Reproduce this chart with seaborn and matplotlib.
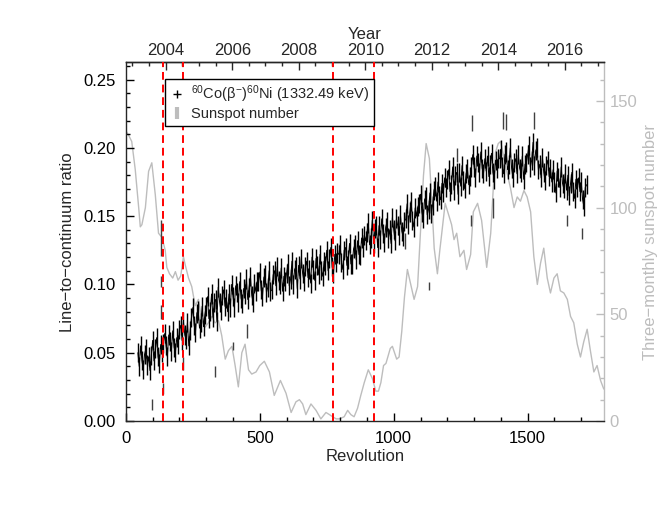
import numpy as np
import pandas as pd
import matplotlib
matplotlib.use("Agg")
import matplotlib.pyplot as plt
import seaborn as sns
from matplotlib.lines import Line2D
from matplotlib.ticker import MultipleLocator, FormatStrFormatter

# 60Co line-to-continuum ratio, one reading every 5 revolutions from rev 45
ratio_start = 45
ratio_step = 5
ratio = [
    0.050, 0.040, 0.055, 0.044, 0.038, 0.049, 0.053, 0.041, 0.047, 0.037,
    0.048, 0.059, 0.044, 0.053, 0.061, 0.047, 0.042, 0.056, 0.050, 0.057,
    0.064, 0.055, 0.047, 0.063, 0.058, 0.051, 0.066, 0.054, 0.050, 0.061,
    0.056, 0.067, 0.070, 0.059, 0.073, 0.063, 0.060, 0.072, 0.055, 0.066,
    0.076, 0.083, 0.070, 0.065, 0.079, 0.081, 0.068, 0.072, 0.084, 0.069,
    0.078, 0.084, 0.091, 0.075, 0.080, 0.093, 0.076, 0.087, 0.089, 0.073,
    0.098, 0.087, 0.081, 0.092, 0.096, 0.084, 0.090, 0.080, 0.093, 0.083,
    0.100, 0.091, 0.083, 0.099, 0.094, 0.087, 0.102, 0.090, 0.086, 0.097,
    0.093, 0.104, 0.089, 0.098, 0.106, 0.092, 0.087, 0.101, 0.095, 0.102,
    0.102, 0.109, 0.096, 0.091, 0.105, 0.107, 0.094, 0.098, 0.110, 0.095,
    0.096, 0.107, 0.110, 0.099, 0.113, 0.103, 0.100, 0.112, 0.095, 0.106,
    0.102, 0.108, 0.115, 0.099, 0.104, 0.117, 0.100, 0.111, 0.113, 0.097,
    0.114, 0.104, 0.119, 0.108, 0.102, 0.113, 0.117, 0.105, 0.111, 0.101,
    0.120, 0.111, 0.103, 0.119, 0.114, 0.107, 0.122, 0.110, 0.106, 0.117,
    0.114, 0.125, 0.110, 0.119, 0.127, 0.113, 0.108, 0.122, 0.116, 0.123,
    0.122, 0.129, 0.116, 0.111, 0.125, 0.127, 0.114, 0.118, 0.130, 0.115,
    0.115, 0.126, 0.129, 0.118, 0.132, 0.122, 0.121, 0.134, 0.127, 0.136,
    0.132, 0.138, 0.145, 0.129, 0.134, 0.147, 0.130, 0.141, 0.143, 0.127,
    0.143, 0.133, 0.148, 0.137, 0.131, 0.142, 0.146, 0.134, 0.140, 0.130,
    0.149, 0.140, 0.132, 0.148, 0.143, 0.136, 0.151, 0.139, 0.135, 0.146,
    0.148, 0.159, 0.144, 0.153, 0.161, 0.147, 0.142, 0.156, 0.150, 0.157,
    0.159, 0.166, 0.153, 0.148, 0.162, 0.164, 0.151, 0.155, 0.167, 0.152,
    0.158, 0.169, 0.172, 0.161, 0.175, 0.165, 0.162, 0.174, 0.167, 0.178,
    0.171, 0.177, 0.184, 0.168, 0.173, 0.186, 0.169, 0.180, 0.182, 0.166,
    0.182, 0.172, 0.187, 0.176, 0.170, 0.181, 0.185, 0.173, 0.179, 0.186,
    0.195, 0.186, 0.178, 0.194, 0.189, 0.182, 0.197, 0.185, 0.181, 0.192,
    0.183, 0.194, 0.179, 0.188, 0.196, 0.182, 0.177, 0.191, 0.185, 0.192,
    0.192, 0.199, 0.186, 0.181, 0.195, 0.197, 0.184, 0.188, 0.200, 0.185,
    0.178, 0.189, 0.192, 0.181, 0.195, 0.185, 0.182, 0.194, 0.177, 0.188,
    0.189, 0.195, 0.202, 0.186, 0.191, 0.204, 0.187, 0.198, 0.200, 0.184,
    0.188, 0.178, 0.193, 0.182, 0.176, 0.187, 0.191, 0.179, 0.185, 0.175,
    0.184, 0.175, 0.167, 0.183, 0.178, 0.171, 0.186, 0.174, 0.170, 0.181,
    0.169, 0.180, 0.165, 0.174, 0.182, 0.168, 0.163, 0.177, 0.171, 0.178,
    0.168, 0.175, 0.162, 0.157, 0.171, 0.173,
]
ratio_err = 0.007

# isolated points lying off the main band
out_rev = [99, 130, 132, 133, 140, 212, 331, 400, 452, 1041, 1130,
           1235, 1290, 1291, 1372, 1407, 1420, 1523, 1648, 1703]
out_ratio = [0.012, 0.134, 0.102, 0.080, 0.024, 0.042, 0.036, 0.055, 0.066, 0.132, 0.099,
             0.195, 0.147, 0.218, 0.156, 0.220, 0.219, 0.220, 0.147, 0.137]
out_err = [0.004, 0.013, 0.004, 0.005, 0.004, 0.005, 0.004, 0.003, 0.005, 0.006, 0.003,
           0.005, 0.004, 0.006, 0.007, 0.006, 0.006, 0.006, 0.004, 0.004]

# three-monthly sunspot number
ssn_rev = [0, 10, 22, 35, 48, 54, 60, 73, 85, 97, 110, 122, 135, 147, 153, 163,
           175, 185, 195, 205, 215, 222, 234, 246, 259, 271, 284, 296, 308, 321,
           333, 346, 358, 371, 383, 396, 408, 420, 433, 445, 458, 470, 486, 500,
           517, 536, 554, 577, 598, 617, 635, 648, 660, 672, 691, 710, 728, 747,
           760, 772, 785, 797, 815, 828, 840, 852, 865, 877, 890, 905, 920, 933,
           943, 952, 962, 971, 987, 995, 1011, 1020, 1030, 1040, 1051, 1060, 1076,
           1089, 1101, 1111, 1121, 1133, 1142, 1151, 1163, 1172, 1182, 1192, 1204,
           1216, 1225, 1235, 1247, 1262, 1272, 1287, 1297, 1313, 1328, 1347, 1362,
           1372, 1380, 1390, 1399, 1418, 1436, 1449, 1461, 1473, 1486, 1498, 1511,
           1523, 1536, 1548, 1560, 1573, 1585, 1598, 1610, 1622, 1635, 1648, 1660,
           1672, 1685, 1697, 1709, 1722, 1734, 1747, 1759, 1772, 1784]
ssn = [136, 134, 131, 118, 100, 91, 92, 100, 117, 121, 106, 88, 86, 80, 72, 69,
       67, 70, 66, 68, 77, 73, 67, 63, 54, 57, 47, 44, 46, 49,
       46, 47, 40, 29, 33, 35, 26, 16, 32, 36, 24, 22, 23, 26,
       28, 23, 12, 19, 13, 4, 9, 10, 8, 3, 8, 5, 1, 4,
       3, 2, 1, 1, 2, 5, 3, 2, 6, 12, 18, 24, 20, 14,
       14, 18, 26, 27, 34, 35, 29, 30, 42, 58, 71, 66, 57,
       63, 91, 115, 130, 123, 103, 81, 69, 80, 91, 102, 97,
       92, 85, 88, 77, 80, 71, 78, 98, 102, 94, 72, 88,
       110, 126, 130, 131, 119, 109, 100, 105, 103, 108, 105, 98,
       77, 64, 74, 81, 67, 60, 67, 69, 61, 60, 57, 49,
       46, 36, 30, 37, 43, 33, 23, 26, 19, 15]

# revolutions marked with red dashed lines
mark_rev = [140, 213, 772, 925]

year_ticks = [2004, 2006, 2008, 2010, 2012, 2014, 2016]

GREY = "#bdbdbd"

sns.set_style("ticks")
plt.rcParams["font.family"] = ["Liberation Sans", "DejaVu Sans"]
plt.rcParams["mathtext.fontset"] = "custom"
plt.rcParams["mathtext.rm"] = "Liberation Sans"
plt.rcParams["mathtext.it"] = "Liberation Sans:italic"
plt.rcParams["axes.linewidth"] = 1.0

rev = np.arange(ratio_start, ratio_start + ratio_step * len(ratio), ratio_step)
df = pd.DataFrame({"rev": rev, "ratio": ratio})
ssn_df = pd.DataFrame({"rev": ssn_rev, "ssn": ssn})

fig = plt.figure(figsize=(6.64, 5.13), dpi=100)
ax = fig.add_axes([0.1895, 0.1793, 0.7202, 0.6989])
ax2 = ax.twinx()

sns.lineplot(data=ssn_df, x="rev", y="ssn", ax=ax2, color=GREY, lw=1,
             sort=False, estimator=None)

# dense data: thin zigzag through the points plus the error bars
sns.lineplot(data=df, x="rev", y="ratio", ax=ax, color="black", lw=0.7,
             sort=False, estimator=None)
ax.errorbar(df["rev"], df["ratio"], yerr=ratio_err, fmt="none",
            ecolor="black", elinewidth=1.0)
ax.errorbar(out_rev, out_ratio, yerr=out_err, fmt="none", ecolor="0.25", elinewidth=1)

for r in mark_rev:
    ax.axvline(r, color="red", ls=(0, (4, 2.5)), lw=1.4, zorder=5)

ax.set_zorder(ax2.get_zorder() + 1)
ax.patch.set_visible(False)

ax.set_xlim(0, 1785)
ax.set_ylim(0, 0.2625)
ax2.set_ylim(0, 168)

ax.xaxis.set_major_locator(MultipleLocator(500))
ax.xaxis.set_minor_locator(MultipleLocator(100))
ax.yaxis.set_major_locator(MultipleLocator(0.05))
ax.yaxis.set_minor_locator(MultipleLocator(0.01))
ax.yaxis.set_major_formatter(FormatStrFormatter("%.2f"))
ax2.yaxis.set_major_locator(MultipleLocator(50))
ax2.yaxis.set_minor_locator(MultipleLocator(10))

ax.tick_params(which="both", direction="in", top=False, right=False,
               labelsize=12, colors="black")
ax.tick_params(which="major", length=5.5, width=1, pad=7)
ax.tick_params(which="minor", length=3, width=1)
ax2.tick_params(which="both", direction="in", colors=GREY, labelsize=12)
ax2.tick_params(which="major", length=5.5, width=1, pad=4)
ax2.tick_params(which="minor", length=3, width=1)

ax.spines["right"].set_visible(False)
for s in ["left", "top", "bottom"]:
    ax2.spines[s].set_visible(False)
ax2.spines["right"].set_color(GREY)


def rev2yr(r):
    return 2004 + (np.asarray(r) - 149) / 124.1


def yr2rev(y):
    return 149 + (np.asarray(y) - 2004) * 124.1


secax = ax.secondary_xaxis("top", functions=(rev2yr, yr2rev))
secax.set_xticks(year_ticks)
secax.xaxis.set_minor_locator(MultipleLocator(0.5))
secax.tick_params(which="both", direction="in", labelsize=12, pad=3)
secax.tick_params(which="major", length=5.5, width=1)
secax.tick_params(which="minor", length=3, width=1)
secax.set_xlabel("Year", fontsize=12, labelpad=3)

ax.set_xlabel("Revolution", fontsize=12, labelpad=2)
ax.set_ylabel("Line\u2212to\u2212continuum ratio", fontsize=12, labelpad=6)
ax2.set_ylabel("Three\u2212monthly sunspot number", fontsize=12, color=GREY, labelpad=4)

h1 = Line2D([], [], color="black", marker="+", ls="none", ms=6, mew=1)
h2 = Line2D([], [], color=GREY, marker="|", ls="none", ms=8, mew=3)
leg = ax.legend([h1, h2],
                [r"$^{60}$Co(β$^{-}$)$^{60}$Ni (1332.49 keV)", "Sunspot number"],
                loc="upper left", bbox_to_anchor=(0.082, 0.953), borderaxespad=0,
                fontsize=10.5, frameon=True, fancybox=False, edgecolor="black",
                framealpha=1, borderpad=0.3, labelspacing=0.15,
                handlelength=1.0, handletextpad=0.5)
leg.get_frame().set_linewidth(1.0)

fig.savefig("out.png", dpi=100)
